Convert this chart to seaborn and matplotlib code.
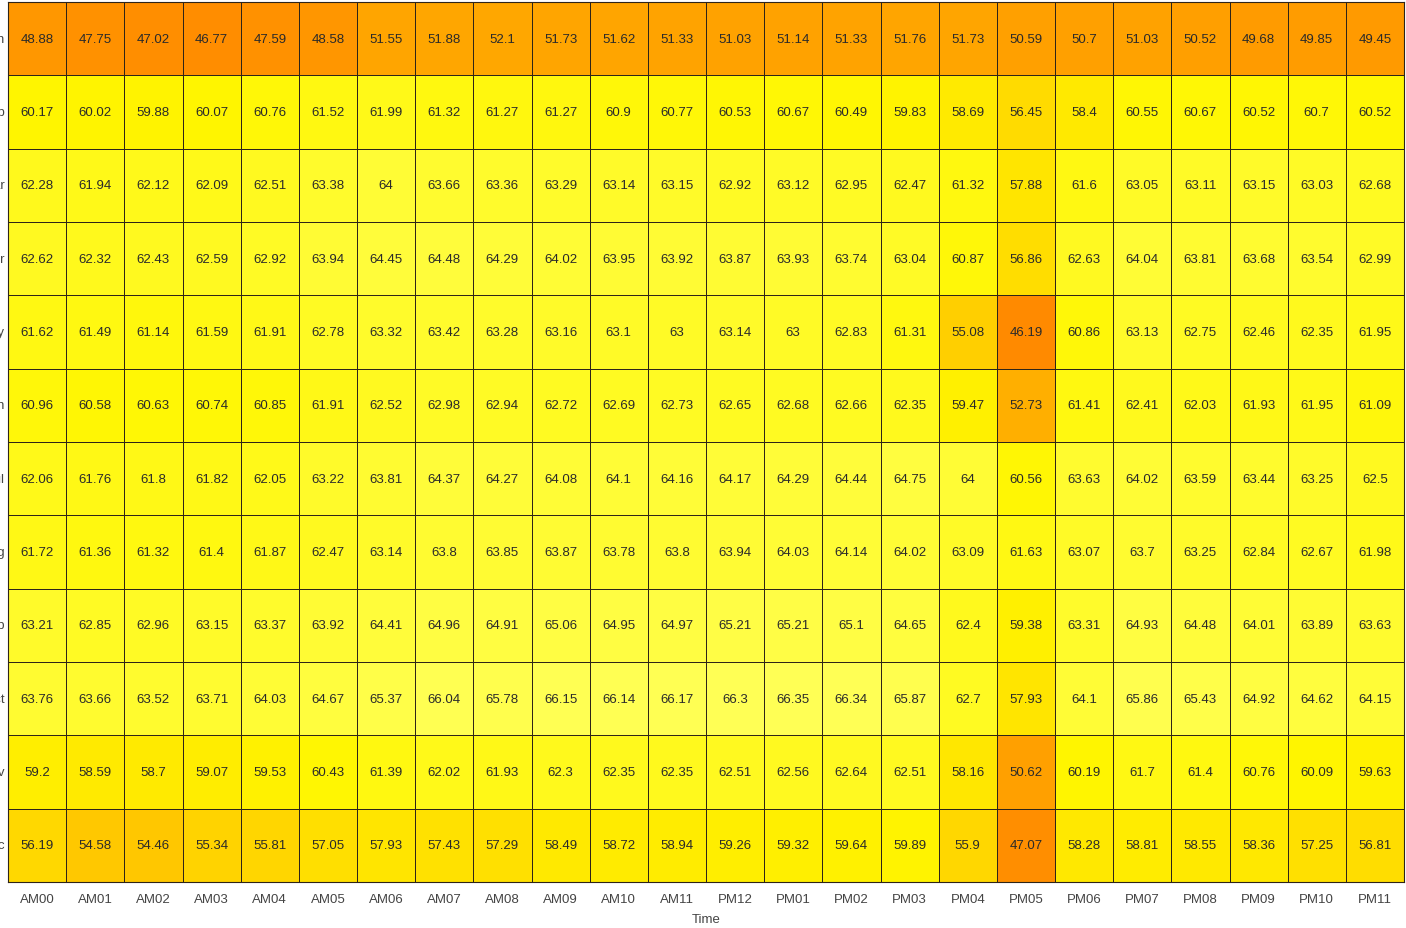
import numpy as np
import pandas as pd
import seaborn as sns
import matplotlib.pyplot as plt
from matplotlib.colors import LinearSegmentedColormap

hours = ["AM00", "AM01", "AM02", "AM03", "AM04", "AM05", "AM06", "AM07", "AM08", "AM09", "AM10", "AM11",
         "PM12", "PM01", "PM02", "PM03", "PM04", "PM05", "PM06", "PM07", "PM08", "PM09", "PM10", "PM11"]
months = ["Jan", "Feb", "Mar", "Apr", "May", "Jun", "Jul", "Aug", "Sep", "Oct", "Nov", "Dec"]

jan = [48.88, 47.75, 47.02, 46.77, 47.59, 48.58, 51.55, 51.88, 52.1, 51.73, 51.62, 51.33, 51.03, 51.14, 51.33, 51.76, 51.73, 50.59, 50.7, 51.03, 50.52, 49.68, 49.85, 49.45]
feb = [60.17, 60.02, 59.88, 60.07, 60.76, 61.52, 61.99, 61.32, 61.27, 61.27, 60.9, 60.77, 60.53, 60.67, 60.49, 59.83, 58.69, 56.45, 58.4, 60.55, 60.67, 60.52, 60.7, 60.52]
mar = [62.28, 61.94, 62.12, 62.09, 62.51, 63.38, 64, 63.66, 63.36, 63.29, 63.14, 63.15, 62.92, 63.12, 62.95, 62.47, 61.32, 57.88, 61.6, 63.05, 63.11, 63.15, 63.03, 62.68]
apr = [62.62, 62.32, 62.43, 62.59, 62.92, 63.94, 64.45, 64.48, 64.29, 64.02, 63.95, 63.92, 63.87, 63.93, 63.74, 63.04, 60.87, 56.86, 62.63, 64.04, 63.81, 63.68, 63.54, 62.99]
may = [61.62, 61.49, 61.14, 61.59, 61.91, 62.78, 63.32, 63.42, 63.28, 63.16, 63.1, 63, 63.14, 63, 62.83, 61.31, 55.08, 46.19, 60.86, 63.13, 62.75, 62.46, 62.35, 61.95]
jun = [60.96, 60.58, 60.63, 60.74, 60.85, 61.91, 62.52, 62.98, 62.94, 62.72, 62.69, 62.73, 62.65, 62.68, 62.66, 62.35, 59.47, 52.73, 61.41, 62.41, 62.03, 61.93, 61.95, 61.09]
jul = [62.06, 61.76, 61.8, 61.82, 62.05, 63.22, 63.81, 64.37, 64.27, 64.08, 64.1, 64.16, 64.17, 64.29, 64.44, 64.75, 64, 60.56, 63.63, 64.02, 63.59, 63.44, 63.25, 62.5]
aug = [61.72, 61.36, 61.32, 61.4, 61.87, 62.47, 63.14, 63.8, 63.85, 63.87, 63.78, 63.8, 63.94, 64.03, 64.14, 64.02, 63.09, 61.63, 63.07, 63.7, 63.25, 62.84, 62.67, 61.98]
sep = [63.21, 62.85, 62.96, 63.15, 63.37, 63.92, 64.41, 64.96, 64.91, 65.06, 64.95, 64.97, 65.21, 65.21, 65.1, 64.65, 62.4, 59.38, 63.31, 64.93, 64.48, 64.01, 63.89, 63.63]
oct_ = [63.76, 63.66, 63.52, 63.71, 64.03, 64.67, 65.37, 66.04, 65.78, 66.15, 66.14, 66.17, 66.3, 66.35, 66.34, 65.87, 62.7, 57.93, 64.1, 65.86, 65.43, 64.92, 64.62, 64.15]
nov = [59.2, 58.59, 58.7, 59.07, 59.53, 60.43, 61.39, 62.02, 61.93, 62.3, 62.35, 62.35, 62.51, 62.56, 62.64, 62.51, 58.16, 50.62, 60.19, 61.7, 61.4, 60.76, 60.09, 59.63]
dec = [56.19, 54.58, 54.46, 55.34, 55.81, 57.05, 57.93, 57.43, 57.29, 58.49, 58.72, 58.94, 59.26, 59.32, 59.64, 59.89, 55.9, 47.07, 58.28, 58.81, 58.55, 58.36, 57.25, 56.81]

df = pd.DataFrame([jan, feb, mar, apr, may, jun, jul, aug, sep, oct_, nov, dec],
                  index=months, columns=hours)

cmap = LinearSegmentedColormap.from_list(
    "oy", [(0.0, "#ff8a00"), (0.3, "#ffa800"), (0.45, "#ffd200"), (0.7, "#fff600"), (1.0, "#ffff55")])

plt.rcParams["font.family"] = ["Liberation Sans", "DejaVu Sans"]

fig = plt.figure(figsize=(14.06, 9.29), dpi=100)
ax = fig.add_axes([8 / 1406, 1 - 883 / 929, 1396 / 1406, 880 / 929])

sns.heatmap(df, ax=ax, cmap=cmap, annot=True, fmt="g", cbar=False,
            linewidths=0.5, linecolor="#2e2418",
            annot_kws={"fontsize": 9.5, "color": "#2a2a2a"})

for s in ax.spines.values():
    s.set_visible(True)
    s.set_color("#2e2418")
    s.set_linewidth(0.8)

ax.tick_params(axis="both", length=0, labelsize=9.5, colors="#444444")
ax.tick_params(axis="x", pad=8)
ax.tick_params(axis="y", pad=2)
plt.yticks(rotation=0)
ax.set_xlabel("Time", fontsize=9.5, color="#444444", labelpad=6)
ax.set_ylabel("")

plt.savefig("out.png", dpi=100)
